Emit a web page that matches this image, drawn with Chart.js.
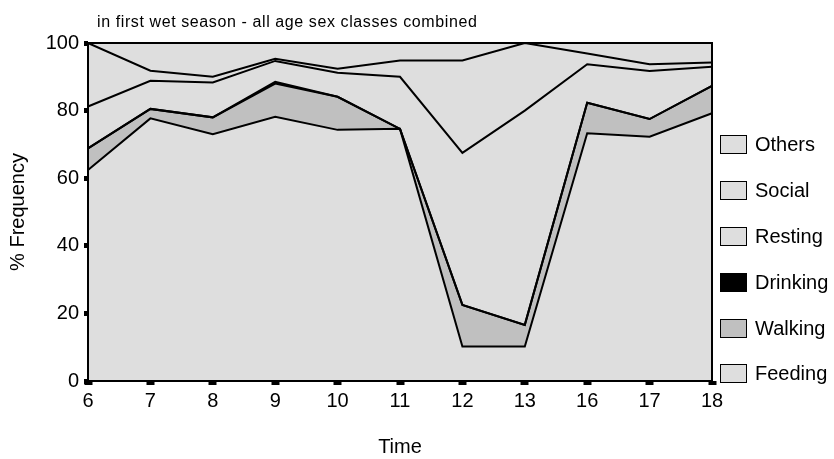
<!DOCTYPE html>
<html>
<head>
<meta charset="utf-8">
<script src="https://cdn.jsdelivr.net/npm/chart.js@4.4.1/dist/chart.umd.min.js"></script>
<style>
  body { margin: 0; background: #fff; font-family: "Liberation Sans", Arial, sans-serif; }
  #wrap { position: relative; width: 834px; height: 459px; }
  #title { position: absolute; left: 97px; top: 12px; font-size: 16px; line-height: 20px; letter-spacing: 0.6px; color: #000; white-space: nowrap; }
  #legend { position: absolute; left: 720px; top: 122px; }
  .row { height: 45.8px; display: flex; align-items: center; }
  .box { width: 27px; height: 19px; box-sizing: border-box; border: 1.5px solid #000; }
  .lbl { margin-left: 8px; font-size: 20px; color: #000; }
</style>
</head>
<body>
<div id="wrap">
  <canvas id="activityChart" width="834" height="459"></canvas>
  <div id="title">in first wet season - all age sex classes combined</div>
  <div id="legend"></div>
</div>
<script>
// Activity budget by hour (% of observations)
const hours = ['6', '7', '8', '9', '10', '11', '12', '13', '16', '17', '18'];
const feeding  = [62.4, 77.7, 73.0, 78.2, 74.3, 74.6, 10.2, 10.2, 73.3, 72.3, 79.2];
const walking  = [6.4, 2.8, 5.0, 9.8, 9.8, 0, 12.3, 6.4, 9.0, 5.2, 8.1];
const drinking = [0, 0, 0, 0.5, 0, 0, 0, 0, 0, 0, 0];
const resting  = [12.4, 8.3, 10.3, 6.2, 7.1, 15.4, 45.0, 63.4, 11.4, 14.2, 5.7];
const social   = [18.8, 3.0, 1.7, 0.6, 1.2, 4.8, 27.3, 20.0, 3.2, 2.0, 1.2];
const others   = [0, 8.2, 10.0, 4.7, 7.6, 5.2, 5.2, 0, 3.1, 6.3, 5.8];
const yTicks = [0, 20, 40, 60, 80, 100];

const seriesNames = ['Feeding', 'Walking', 'Drinking', 'Resting', 'Social', 'Others'];
const seriesData = [feeding, walking, drinking, resting, social, others];
const seriesColors = ['#dedede', '#c0c0c0', '#000000', '#dedede', '#dedede', '#dedede'];

const FONT = '"Liberation Sans", Arial, sans-serif';

const frame = {
  id: 'frame',
  afterDatasetsDraw(chart) {
    const { ctx, chartArea: a } = chart;
    ctx.save();
    ctx.lineWidth = 2;
    ctx.strokeStyle = '#000';
    ctx.strokeRect(a.left, a.top, a.right - a.left, a.bottom - a.top);
    ctx.restore();
  }
};

const ctx = document.getElementById('activityChart').getContext('2d');
const chart = new Chart(ctx, {
  type: 'line',
  data: {
    labels: hours,
    datasets: seriesNames.map((name, i) => ({
      label: name,
      data: seriesData[i],
      fill: i === 0 ? 'origin' : '-1',
      backgroundColor: seriesColors[i],
      borderColor: '#000',
      borderWidth: 2,
      tension: 0,
      pointRadius: 0
    }))
  },
  options: {
    responsive: false,
    animation: false,
    layout: { padding: { top: 43, right: 122, left: 0, bottom: 0 } },
    plugins: {
      legend: { display: false },
      tooltip: { enabled: false },
      filler: { drawTime: 'beforeDatasetsDraw' }
    },
    scales: {
      x: {
        offset: false,
        grid: { drawOnChartArea: false, tickLength: 4, tickWidth: 8, tickColor: '#000' },
        border: { display: false },
        ticks: { color: '#000', font: { size: 20, family: FONT }, padding: 4, maxRotation: 0, autoSkip: false },
        title: { display: true, text: 'Time', color: '#000', font: { size: 20, family: FONT }, padding: { top: 0, bottom: 0 } },
        afterFit: s => { s.height = 78; }
      },
      y: {
        stacked: true,
        min: 0,
        max: 100,
        afterBuildTicks: s => { s.ticks = yTicks.map(v => ({ value: v })); },
        grid: { drawOnChartArea: false, tickLength: 4, tickWidth: 5, tickColor: '#000' },
        border: { display: false },
        ticks: { color: '#000', font: { size: 20, family: FONT }, padding: 5 },
        title: { display: true, text: '% Frequency', color: '#000', font: { size: 20, family: FONT }, padding: { top: 6, bottom: 0 } },
        afterFit: s => { s.width = 88; }
      }
    }
  },
  plugins: [frame]
});

// legend, top to bottom = stack order reversed
const legend = document.getElementById('legend');
chart.data.datasets.slice().reverse().forEach(ds => {
  const row = document.createElement('div');
  row.className = 'row';
  row.innerHTML = `<div class="box" style="background:${ds.backgroundColor}"></div><span class="lbl">${ds.label}</span>`;
  legend.appendChild(row);
});
</script>
</body>
</html>
